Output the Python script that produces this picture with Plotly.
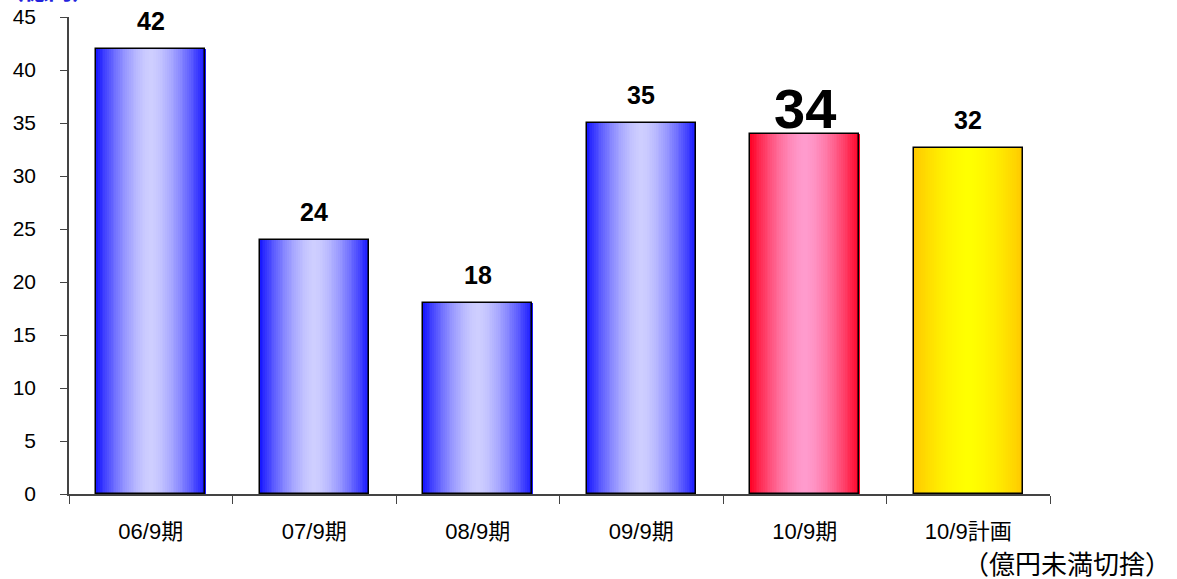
import plotly.graph_objects as go

categories = ["06/9期", "07/9期", "08/9期", "09/9期", "10/9期", "10/9計画"]
values = [42, 24, 18, 35, 34, 32.6]
labels = ["42", "24", "18", "35", "34", "32"]
label_sizes = [25, 25, 25, 25, 56, 25]
label_shift = [12, 12, 12, 12, -8, 12]
edge_colors = [(20, 20, 255)] * 4 + [(255, 0, 36), (255, 200, 0)]
center_colors = [(206, 206, 255)] * 4 + [(255, 155, 205), (255, 255, 0)]

FONT = "Liberation Sans, Arial, Noto Sans CJK JP, sans-serif"
BAR_W = 0.667
N = 60

fig = go.Figure()
sw = BAR_W / N
for k in range(N):
    t = (k + 0.5) / N
    mix = 1 - abs(2 * t - 1) ** 1.6
    cols = []
    for e, c in zip(edge_colors, center_colors):
        r, g, b = (round(e[i] + (c[i] - e[i]) * mix) for i in range(3))
        cols.append(f"rgb({r},{g},{b})")
    fig.add_trace(go.Bar(
        x=categories, y=values,
        width=sw * 1.3, offset=-BAR_W / 2 + k * sw,
        marker=dict(color=cols, line=dict(width=0)),
        hoverinfo="skip", showlegend=False,
    ))

fig.add_trace(go.Bar(
    x=categories, y=values, width=BAR_W, offset=-BAR_W / 2,
    marker=dict(color="rgba(0,0,0,0)", line=dict(color="black", width=1.5)),
    showlegend=False,
))

for c, v, lab, s, sh in zip(categories, values, labels, label_sizes, label_shift):
    fig.add_annotation(x=c, y=v, text=f"<b>{lab}</b>", showarrow=False,
                       yanchor="bottom", yshift=sh,
                       font=dict(size=s, color="black", family=FONT))

fig.add_annotation(xref="paper", yref="paper", x=-0.072, y=1.0, xanchor="left",
                   yanchor="bottom", yshift=11, text="<b>（億円）</b>", showarrow=False,
                   font=dict(size=24, color="#2222DD", family=FONT))
fig.add_annotation(xref="paper", yref="paper", x=1.1255, y=-0.095, xanchor="right",
                   yanchor="top", yshift=-9, text="（億円未満切捨）", showarrow=False,
                   font=dict(size=26, color="black", family=FONT))

fig.update_layout(
    width=1177, height=579,
    margin=dict(l=69, r=127, t=17, b=85),
    barmode="overlay", bargap=0,
    plot_bgcolor="white", paper_bgcolor="white",
    font=dict(family=FONT, size=21, color="black"),
    xaxis=dict(showgrid=False, showline=True, linecolor="#444", linewidth=1.5,
               ticks="outside", tickson="boundaries", ticklen=8, tickcolor="#444",
               tickfont=dict(size=22), range=[-0.5, 5.5], ticklabelstandoff=17,
               automargin=False),
    yaxis=dict(range=[0, 45], dtick=5, showgrid=False, showline=True,
               linecolor="#444", linewidth=1.5, ticks="outside", ticklen=7,
               tickcolor="#444", zeroline=False, tickfont=dict(size=21),
               ticklabelstandoff=20, automargin=False),
)

fig.write_html("out.html", config={"displayModeBar": False},
               post_script="document.body.style.margin='0';document.body.style.padding='0';")
